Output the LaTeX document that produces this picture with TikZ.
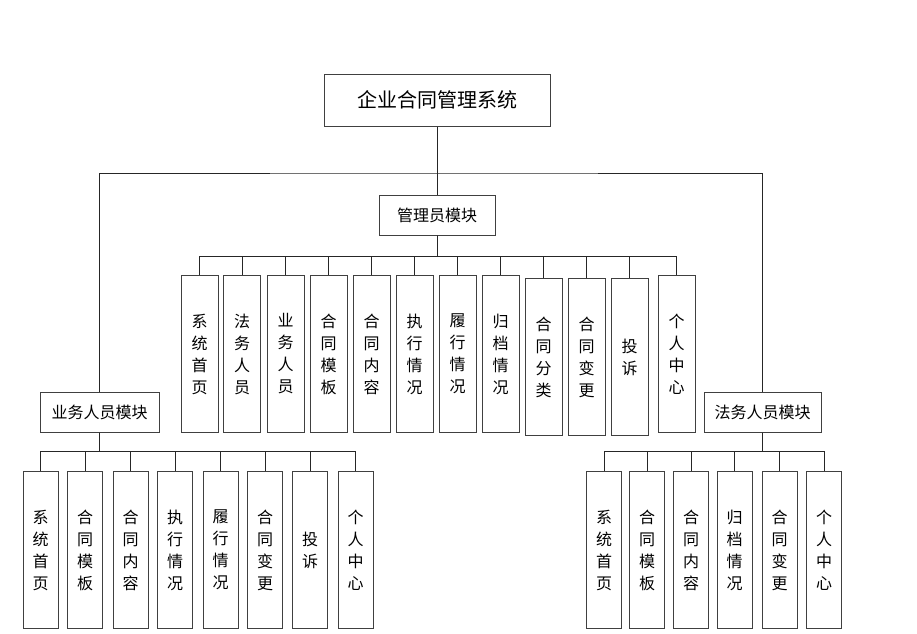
\documentclass[tikz,border=0pt]{standalone}
\usepackage{fontspec}
\setmainfont{Noto Sans CJK SC}
\begin{document}
\begin{tikzpicture}[x=1pt, y=-1pt,
  box/.style={draw=black!75, line width=1pt, fill=white, inner sep=0pt},
  topbox/.style={box, minimum width=226pt, minimum height=52pt, font=\fontsize{20}{24}\selectfont},
  modbox/.style={box, minimum width=117pt, minimum height=40pt, font=\fontsize{16}{20}\selectfont},
  leaf/.style={box, minimum width=37pt, minimum height=157pt, align=center, anchor=north, font=\fontsize{16}{22}\selectfont},
  link/.style={draw=black!85, line width=0.8pt}]
  \useasboundingbox (0,0) rectangle (917,633);
  % top levels
  \node[topbox] (root) at (437,100) {企业合同管理系统};
  \node[modbox, minimum width=116pt] (admin) at (437,215) {管理员模块};
  \node[modbox, minimum width=119pt] (ywmod) at (99.5,412) {业务人员模块};
  \node[modbox] (fwmod) at (762.5,412) {法务人员模块};
  \coordinate (tbus) at (437,173);
  \draw[link] (root.south) -- (admin.north);
  \draw[link] (ywmod.north) |- (tbus) -| (fwmod.north);
  % admin children
  \foreach \cx/\tp/\txt [count=\i] in {199.5/275/{系\\统\\首\\页}, 242/275/{法\\务\\人\\员},
      285.5/275/{业\\务\\人\\员}, 328.5/275/{合\\同\\模\\板}, 371.5/275/{合\\同\\内\\容},
      414.5/275/{执\\行\\情\\况}, 457.5/275/{履\\行\\情\\况}, 500.5/275/{归\\档\\情\\况},
      543.5/278/{合\\同\\分\\类}, 586.5/278/{合\\同\\变\\更}, 629.5/278/{投\\诉},
      676.5/275/{个\\人\\中\\心}}{
    \node[leaf] (a\i) at (\cx,\tp) {\txt};
    \draw[link] (admin.south) -- ++(0,20.5) -| (a\i.north);
  }
  % business staff children
  \foreach \cx/\txt [count=\i] in {40.5/{系\\统\\首\\页}, 85/{合\\同\\模\\板},
      130.5/{合\\同\\内\\容}, 175/{执\\行\\情\\况}, 220.5/{履\\行\\情\\况},
      265/{合\\同\\变\\更}, 310/{投\\诉}, 355.5/{个\\人\\中\\心}}{
    \node[leaf, minimum width=35pt] (b\i) at (\cx,471) {\txt};
    \draw[link] (ywmod.south) -- ++(0,19) -| (b\i.north);
  }
  % legal staff children
  \foreach \cx/\txt [count=\i] in {604/{系\\统\\首\\页}, 647/{合\\同\\模\\板},
      691/{合\\同\\内\\容}, 734.5/{归\\档\\情\\况}, 779.5/{合\\同\\变\\更},
      824/{个\\人\\中\\心}}{
    \node[leaf, minimum width=35pt] (c\i) at (\cx,471) {\txt};
    \draw[link] (fwmod.south) -- ++(0,19) -| (c\i.north);
  }
\end{tikzpicture}
\end{document}
